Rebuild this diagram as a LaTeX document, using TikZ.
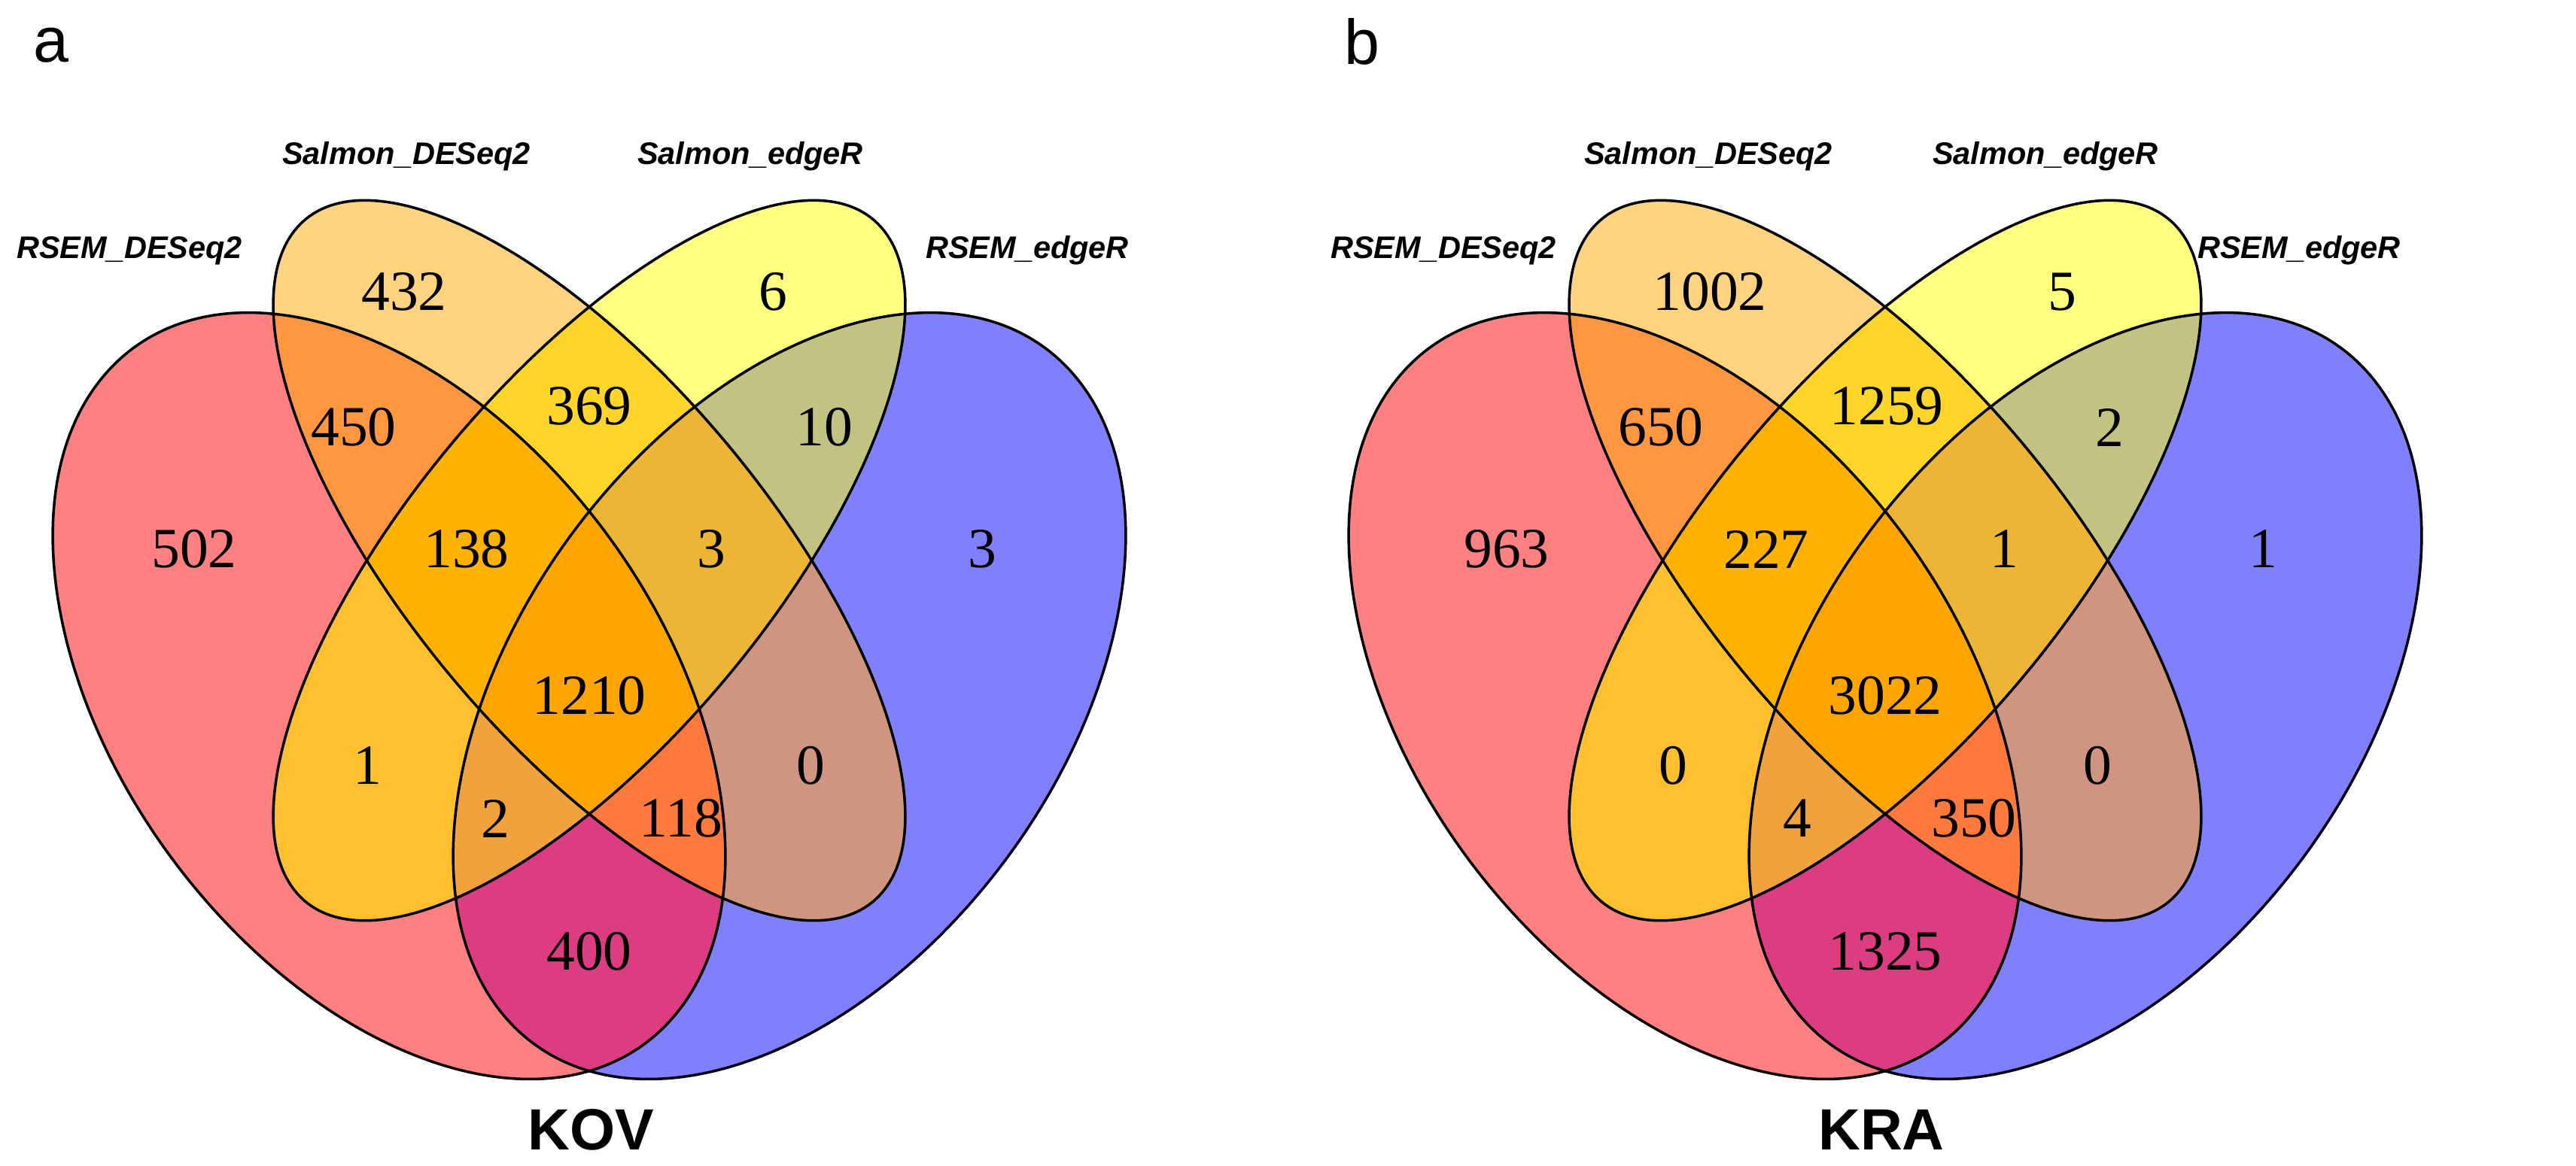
\documentclass[tikz,border=0pt]{standalone}
\usepackage{fontspec}
\setmainfont{Liberation Serif}
\newfontfamily\lsans{Liberation Sans}
\definecolor{cR}{HTML}{FF8080}\definecolor{cO}{HTML}{FFD380}
\definecolor{cY}{HTML}{FFFF80}\definecolor{cB}{HTML}{8080FF}
\definecolor{cRO}{HTML}{FF9640}\definecolor{cOY}{HTML}{FFD52A}
\definecolor{cYB}{HTML}{C2C282}\definecolor{cRB}{HTML}{DC3C80}
\definecolor{cRY}{HTML}{FFC030}\definecolor{cOB}{HTML}{D09580}
\definecolor{cROY}{HTML}{FFB300}\definecolor{cOYB}{HTML}{ECB535}
\definecolor{cRYB}{HTML}{F0A23C}\definecolor{cROB}{HTML}{FF7A3C}
\definecolor{cAll}{HTML}{FFA500}
\def\eR{(5.17,5.482) ellipse[x radius=5.32cm,y radius=3.41cm,rotate=-45]}
\def\eB{(10.49,5.482) ellipse[x radius=5.32cm,y radius=3.41cm,rotate=45]}
\def\eO{(7.83,7.061) ellipse[x radius=5.49cm,y radius=2.26cm,rotate=-45]}
\def\eY{(7.83,7.061) ellipse[x radius=5.49cm,y radius=2.26cm,rotate=45]}
\begin{document}
\begin{tikzpicture}[
  num/.style={font=\fontsize{21.5}{24}\selectfont},
  lab/.style={font=\lsans\bfseries\itshape\fontsize{11.8}{13}\selectfont},
  ttl/.style={font=\lsans\bfseries\fontsize{22}{26}\selectfont},
  pnl/.style={font=\lsans\fontsize{24}{28}\selectfont},
  edge/.style={draw=black,line width=1pt}
]
\useasboundingbox (0,0) rectangle (34.23,15.5);
\fill[white] (0,0) rectangle (34.23,15.5);
\foreach \dx in {0,17.22}{
\begin{scope}[xshift=\dx cm,yscale=1.14]
  \fill[cR] \eR; \fill[cB] \eB; \fill[cO] \eO; \fill[cY] \eY;
  \begin{scope}\clip \eR; \fill[cRO] \eO; \end{scope}
  \begin{scope}\clip \eO; \fill[cOY] \eY; \end{scope}
  \begin{scope}\clip \eY; \fill[cYB] \eB; \end{scope}
  \begin{scope}\clip \eR; \fill[cRB] \eB; \end{scope}
  \begin{scope}\clip \eR; \fill[cRY] \eY; \end{scope}
  \begin{scope}\clip \eO; \fill[cOB] \eB; \end{scope}
  \begin{scope}\clip \eR; \clip \eO; \fill[cROY] \eY; \end{scope}
  \begin{scope}\clip \eO; \clip \eY; \fill[cOYB] \eB; \end{scope}
  \begin{scope}\clip \eR; \clip \eY; \fill[cRYB] \eB; \end{scope}
  \begin{scope}\clip \eR; \clip \eO; \fill[cROB] \eB; \end{scope}
  \begin{scope}\clip \eR; \clip \eO; \clip \eY; \fill[cAll] \eB; \end{scope}
  \draw[edge] \eB; \draw[edge] \eR; \draw[edge] \eO; \draw[edge] \eY;
\end{scope}}
% panel a
\node[pnl] (pa) at (0.68,14.9) {a};
\node[lab] (la1) at (1.72,12.17) {RSEM\_DESeq2};
\node[lab] (la2) at (5.40,13.42) {Salmon\_DESeq2};
\node[lab] (la3) at (9.97,13.42) {Salmon\_edgeR};
\node[lab] (la4) at (13.65,12.17) {RSEM\_edgeR};
\node[num] (a1) at (5.37,11.62) {432};
\node[num] (a2) at (10.27,11.62) {6};
\node[num] (a3) at (4.70,9.82) {450};
\node[num] (a4) at (7.83,10.10) {369};
\node[num] (a5) at (10.95,9.82) {10};
\node[num] (a6) at (2.58,8.20) {502};
\node[num] (a7) at (6.20,8.20) {138};
\node[num] (a8) at (9.45,8.20) {3};
\node[num] (a9) at (13.05,8.20) {3};
\node[num] (a10) at (7.83,6.25) {1210};
\node[num] (a11) at (4.88,5.32) {1};
\node[num] (a12) at (10.77,5.32) {0};
\node[num] (a13) at (6.58,4.62) {2};
\node[num] (a14) at (9.05,4.62) {118};
\node[num] (a15) at (7.83,2.85) {400};
\node[ttl] (ta) at (7.85,0.48) {KOV};
% panel b
\node[pnl] (pb) at (18.10,14.95) {b};
\node[lab] (lb1) at (19.18,12.17) {RSEM\_DESeq2};
\node[lab] (lb2) at (22.70,13.42) {Salmon\_DESeq2};
\node[lab] (lb3) at (27.18,13.42) {Salmon\_edgeR};
\node[lab] (lb4) at (30.55,12.17) {RSEM\_edgeR};
\node[num] (b1) at (22.72,11.62) {1002};
\node[num] (b2) at (27.40,11.62) {5};
\node[num] (b3) at (22.07,9.82) {650};
\node[num] (b4) at (25.07,10.10) {1259};
\node[num] (b5) at (28.03,9.82) {2};
\node[num] (b6) at (20.02,8.20) {963};
\node[num] (b7) at (23.47,8.20) {227};
\node[num] (b8) at (26.63,8.20) {1};
\node[num] (b9) at (30.07,8.20) {1};
\node[num] (b10) at (25.05,6.25) {3022};
\node[num] (b11) at (22.23,5.32) {0};
\node[num] (b12) at (27.87,5.32) {0};
\node[num] (b13) at (23.88,4.62) {4};
\node[num] (b14) at (26.23,4.62) {350};
\node[num] (b15) at (25.05,2.85) {1325};
\node[ttl] (tb) at (25.00,0.48) {KRA};
\end{tikzpicture}
\end{document}
